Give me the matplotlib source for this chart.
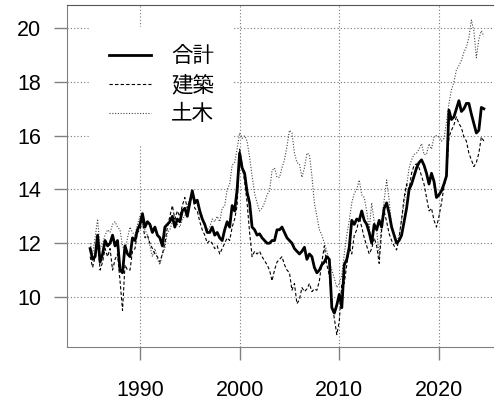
import numpy as np
import matplotlib
matplotlib.use("Agg")
import matplotlib.pyplot as plt

# Quarterly values, 1985Q1 .. 2024Q3
total = [
    11.8, 11.4, 11.5, 12.3,  11.3, 11.6, 12.1, 11.9,  12.0, 12.3, 11.9, 12.1,
    11.0, 10.9, 11.9, 11.6,  11.5, 12.2, 12.1, 12.5,  12.7, 13.1, 12.6, 12.8,
    12.7, 12.4, 12.6, 12.3,  12.2, 11.9, 12.6, 12.7,  12.8, 13.0, 12.6, 12.9,
    12.8, 13.2, 13.3, 13.0,  13.5, 13.95, 13.5, 13.6, 13.2, 12.9, 12.7, 12.4,
    12.4, 12.6, 12.3, 12.4,  12.2, 12.1, 12.5, 12.8,  12.6, 13.4, 13.2, 14.0,
    15.35, 14.8, 14.6, 13.9, 13.5, 12.6, 12.5, 12.3,  12.35, 12.2, 12.1, 12.0,
    12.0, 12.1, 12.1, 12.5,  12.5, 12.6, 12.4, 12.2,  12.1, 12.0, 11.8, 11.7,
    11.6, 11.7, 11.85, 11.4, 11.6, 11.5, 11.1, 10.9,  11.0, 11.2, 11.3, 11.5,
    11.4, 9.6, 9.4, 9.7,     10.1, 9.6, 11.2, 11.4,   11.85, 12.85, 12.7, 12.9,
    12.85, 13.2, 12.85, 12.7, 12.4, 12.0, 12.7, 12.5, 12.85, 12.6, 13.3, 13.5,
    13.1, 12.6, 12.3, 12.0,  12.1, 12.3, 12.8, 13.3,  14.0, 14.2, 14.5, 14.8,
    15.0, 15.1, 14.9, 14.6,  14.2, 14.6, 14.3, 13.7,  13.8, 13.95, 14.2, 14.5,
    16.95, 16.6, 16.7, 17.0, 17.3, 16.9, 17.0, 17.2,  17.2, 16.8, 16.45, 16.1,
    16.2, 17.05, 17.0,
]
kenchiku = [
    11.5, 11.1, 11.5, 12.2,  11.0, 11.3, 11.8, 11.5,  11.8, 11.0, 11.4, 11.6,
    10.6, 9.5, 11.2, 11.0,   11.0, 11.7, 11.8, 12.4,  12.5, 12.8, 12.2, 12.3,
    12.0, 11.8, 11.6, 11.5,  11.3, 11.6, 12.0, 12.6,  13.0, 13.4, 12.9, 13.2,
    13.0, 13.4, 13.7, 13.3,  13.6, 13.9, 13.3, 13.2,  12.8, 12.5, 12.3, 12.0,
    12.1, 12.0, 11.8, 11.9,  11.6, 11.8, 12.0, 12.2,  12.1, 12.6, 12.9, 13.4,
    15.5, 14.9, 14.3, 13.5,  12.4, 11.5, 11.7, 11.6,  11.7, 11.5, 11.35, 11.2,
    11.0, 10.6, 11.0, 11.3,  11.4, 11.5, 11.2, 11.0,  10.9, 10.25, 10.5, 9.75,
    9.9, 10.35, 10.2, 10.3,  10.5, 10.2, 10.3, 10.25, 10.6, 11.3, 11.9, 11.2,
    10.8, 9.8, 9.2, 8.6,     9.1, 10.5, 10.5, 11.2,   11.85, 11.6, 12.3, 12.5,
    12.95, 12.6, 12.2, 11.9, 11.6, 11.8, 12.2, 11.9,  11.25, 12.5, 13.2, 12.8,
    12.35, 12.1, 11.9, 11.75, 12.2, 12.9, 13.7, 14.2, 14.0, 14.6, 14.9, 14.95,
    14.8, 14.5, 14.2, 13.7,  13.2, 13.3, 12.85, 12.6, 13.0, 13.5, 14.1, 14.5,
    15.95, 16.2, 16.4, 16.7, 16.45, 16.3, 15.95, 15.8, 15.35, 15.1, 14.85, 15.0,
    15.35, 15.95, 15.8,
]
doboku = [
    12.0, 11.6, 12.2, 12.9,  11.8, 12.0, 12.3, 12.5,  12.4, 12.7, 12.8, 12.6,
    12.5, 11.9, 11.7, 12.2,  12.6, 12.4, 12.3, 12.7,  13.0, 12.7, 12.5, 12.3,
    11.9, 11.5, 11.8, 11.4,  11.2, 11.6, 11.8, 12.4,  12.5, 12.8, 13.0, 12.7,
    12.6, 12.9, 13.0, 13.4,  13.6, 13.8, 13.7, 13.5,  13.2, 13.0, 12.7, 12.5,
    12.6, 12.9, 12.8, 13.0,  12.8, 13.3, 13.4, 14.0,  14.2, 14.9, 15.0, 15.5,
    16.1, 15.9, 16.0, 15.8,  15.2, 14.5, 13.85, 13.5, 13.2, 13.3, 13.5, 13.8,
    13.95, 14.7, 14.8, 14.45, 14.45, 14.8, 15.1, 15.6, 16.2, 16.1, 15.35, 15.0,
    14.95, 14.45, 14.8, 15.35, 15.3, 14.5, 13.5, 13.0, 12.5, 12.3, 12.0, 11.7,
    11.35, 11.0, 10.7, 10.35, 10.5, 10.8, 11.6, 12.3, 12.85, 13.5, 13.85, 14.0,
    14.35, 13.8, 13.7, 13.2, 12.5, 13.5, 12.8, 12.5,  11.5, 12.85, 13.6, 14.35,
    13.6, 12.6, 12.3, 12.0,  12.3, 12.85, 13.5, 14.1, 14.8, 15.1, 15.3, 15.35,
    15.5, 15.7, 15.3, 15.3,  15.7, 15.5, 15.95, 16.0, 15.95, 15.8, 15.9, 16.5,
    17.2, 17.7, 18.0, 18.45, 18.6, 18.8, 19.1, 19.3,  19.65, 20.3, 19.9, 18.9,
    19.6, 19.9, 19.7,
]
labels = ["合計", "建築", "土木"]
xticks = [1990, 2000, 2010, 2020]
yticks = [10, 12, 14, 16, 18, 20]

years = 1985 + np.arange(len(total)) / 4

plt.rcParams["font.family"] = ["Liberation Sans", "Noto Sans CJK JP"]

fig = plt.figure(figsize=(4.94, 4.04), dpi=100)
ax = fig.add_axes([67 / 494, 1 - 347 / 404, 1 - 67 / 494, 342 / 404])

# R-style dotted grid under the data
for x in xticks:
    ax.axvline(x, color="#777777", lw=0.8, ls=(0, (1, 2)), zorder=1)
for y in yticks:
    ax.axhline(y, color="#777777", lw=0.8, ls=(0, (1, 2)), zorder=1)

ax.plot(years, total, color="black", lw=2.0, label=labels[0], zorder=4)
ax.plot(years, kenchiku, color="black", lw=0.8, ls=(0, (3, 2)), label=labels[1], zorder=3)
ax.plot(years, doboku, color="#444444", lw=0.8, ls=(0, (1, 1.5)), label=labels[2], zorder=2)

ax.set_xlim(1982.68, 2025.52)
ax.set_ylim(8.14, 20.86)
ax.set_xticks(xticks)
ax.set_yticks(yticks)

for side in ["left", "bottom"]:
    ax.spines[side].set_color("#808080")
ax.spines["top"].set_color("#555555")
ax.spines["right"].set_visible(False)

ax.tick_params(axis="both", direction="out", length=9.5, width=1, color="#808080",
               labelsize=15.5, labelcolor="black")
ax.tick_params(axis="x", pad=14)
ax.tick_params(axis="y", pad=9)

leg = ax.legend(loc="upper left", bbox_to_anchor=(90 / 494, 1 - 27 / 404),
                bbox_transform=fig.transFigure, frameon=True, facecolor="white",
                edgecolor="none", framealpha=1, fancybox=False, fontsize=15.5,
                handlelength=1.95, handletextpad=0.93, labelspacing=0.37,
                borderpad=0.9, borderaxespad=0)
leg.set_zorder(5)

fig.savefig("out.png", dpi=100)
